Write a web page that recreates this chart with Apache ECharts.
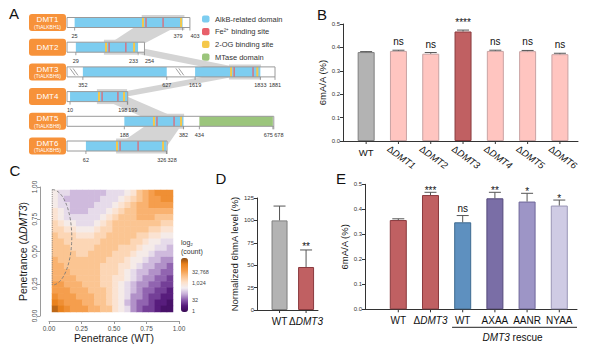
<!DOCTYPE html>
<html>
<head>
<meta charset="UTF-8">
<title>DMT figure</title>
<script src="https://cdn.jsdelivr.net/npm/echarts@6/dist/echarts.min.js"></script>
<style>
  body { margin: 0; background: #fff; }
  #chart { width: 599px; height: 350px; }
</style>
</head>
<body>
<div id="chart"></div>
<script>
var FONT = '"Liberation Sans", Arial, Helvetica, sans-serif';

// ---------- A: domain map (amino-acid positions)
var protNames = ['DMT1', 'DMT2', 'DMT3', 'DMT4', 'DMT5', 'DMT6'];
var protAlias = ['(TtALKBH1)', '', '(TtALKBH6)', '', '(TtALKBH8)', '(TtALKBH5)'];
var protLen = [403, 254, 1881, 199, 678, 328];
var alkbDomains = [[[25, 379]], [[29, 233]], [[352, 627], [1619, 1833]], [[10, 198]], [[188, 382]], [[62, 326]]];
var mtaseDomains = [[], [], [], [], [[434, 675]], []];
var feSites = [[259, 315], [138, 193], [1747, 1809], [115, 167], [295, 351], [174, 233]];
var ogSites = [[249, 374], [128, 220], [1737, 1823], [105, 187], [285, 374], [164, 315]];
var tickPos = [[25, 379, 403], [29, 233, 254], [352, 627, 1619, 1833, 1881], [10, 198, 199], [188, 382, 434, 675, 678], [62, 326, 328]];
var homology = [[245, 385], [121, 230], [1730, 1835], [98, 197], [279, 384], [161, 328]];
var dmt3Shift = [[1500, 1199], [300, 300]];   // DMT3 axis breaks: aa >= from shifted by n
var dmt3Breaks = [23, 1569];
var legendNames = ['AlkB-related domain', 'Fe\u00b2\u207a binding site', '2-OG binding site', 'MTase domain'];

// ---------- B
var catsB = ['WT', '\u0394DMT1', '\u0394DMT2', '\u0394DMT3', '\u0394DMT4', '\u0394DMT5', '\u0394DMT6'];
var valsB = [0.380, 0.385, 0.373, 0.468, 0.385, 0.384, 0.371];
var errsB = [0.002, 0.003, 0.005, 0.006, 0.003, 0.003, 0.004];
var sigB = ['', 'ns', 'ns', '****', 'ns', 'ns', 'ns'];

// ---------- C: log2(count), rows from top (1.0) to bottom (0.0)
var heatRows = [
  [8,7,7,6,6,6,6,6,6,7,7,7,8,9,11,12,13,14,14,14],
  [8,7,6,6,6,6,6,6,7,7,7,8,9,10,11,12,13,13,14,14],
  [8,7,7,6,6,6,6,7,7,7,8,9,10,11,12,12,13,13,13,13],
  [9,8,7,6,6,6,7,7,7,8,9,10,11,11,12,12,12,12,12,12],
  [9,8,7,7,7,7,7,7,8,9,10,11,11,11,12,12,12,11,11,11],
  [10,9,8,8,7,7,7,8,9,10,11,11,11,11,11,11,11,11,10,10],
  [10,10,9,9,8,8,8,9,10,10,11,11,11,11,11,11,10,10,9,9],
  [11,10,10,10,9,9,9,10,10,11,11,11,11,11,10,10,9,9,8,8],
  [11,11,10,10,10,10,10,10,11,11,11,11,11,10,10,9,8,8,7,7],
  [11,11,11,10,10,10,10,11,11,11,11,10,10,10,9,8,8,7,7,6],
  [11,11,11,11,10,10,11,11,11,11,10,10,10,9,8,8,7,6,6,6],
  [12,11,11,11,11,11,11,11,11,10,10,10,9,8,8,7,6,6,5,5],
  [12,12,11,11,11,11,11,11,10,10,10,9,9,8,7,6,6,5,5,4],
  [12,12,12,11,11,11,11,11,10,10,10,9,8,7,6,6,5,5,4,4],
  [12,12,12,12,11,11,11,11,10,10,9,9,8,7,6,5,5,4,4,3],
  [13,13,12,12,12,11,11,11,10,10,9,8,7,6,5,5,4,4,3,3],
  [13,13,13,12,12,12,11,11,11,10,9,8,7,6,5,4,4,3,3,2],
  [14,13,13,13,12,12,12,11,11,10,9,8,7,5,5,4,3,3,2,2],
  [15,14,13,13,13,12,12,11,11,10,9,8,6,5,4,4,3,2,2,1],
  [16,15,14,13,13,13,12,12,11,11,9,8,7,5,4,3,3,2,1,1]
];
var heatColors = ['#3a0a55', '#55197a', '#8a5aab', '#c7afd8', '#f3eef2', '#fde0c8', '#fbbf87', '#f49a45', '#e8801c', '#8b4a12'];
var cbarLabels = ['32,768', '1,024', '32', '1'];
var ellipse = [0.025, 0.61, 0.15, 0.37]; // cx, cy, rx, ry

// ---------- D
var catsD = ['WT', '\u0394DMT3'];
var valsD = [100, 48];
var errsD = [16, 19];
var sigD = ['', '**'];

// ---------- E
var catsE = ['WT', '\u0394DMT3', 'WT', 'AXAA', 'AANR', 'NYAA'];
var valsE = [0.357, 0.457, 0.348, 0.444, 0.431, 0.415];
var errsE = [0.005, 0.011, 0.027, 0.024, 0.033, 0.022];
var sigE = ['', '***', 'ns', '**', '*', '*'];
var rescueRange = [2, 5];

var BLUE = '#7dcdf0', RED = '#e8606a', YELLOW = '#f5c84a', GREEN = '#9bc57c', ORANGE = '#f7923a';
var colorsB = ['#b3b3b3', '#ffc5c0', '#ffc5c0', '#c06062', '#ffc5c0', '#ffc5c0', '#ffc5c0'];
var bordersB = ['#7f7f7f', '#c9a3a3', '#c9a3a3', '#8a3a3e', '#c9a3a3', '#c9a3a3', '#c9a3a3'];
var colorsD = ['#b3b3b3', '#c06062'];
var bordersD = ['#7f7f7f', '#8a3a3e'];
var colorsE = ['#c06062', '#c06062', '#5e90bf', '#7a6ea6', '#9d95c6', '#cfcbe4'];
var bordersE = ['#8a3a3e', '#8a3a3e', '#3e6a90', '#54497a', '#6e6799', '#9a96b5'];

function aaToX(r, aa) {
  if (r !== 2) return aa;
  for (var k = 0; k < dmt3Shift.length; k++) {
    if (aa >= dmt3Shift[k][0]) return aa - dmt3Shift[k][1];
  }
  return aa;
}

function txt(s, x, y, size, opt) {
  opt = opt || {};
  return {
    type: 'text', x: x, y: y, rotation: opt.rotation || 0, z2: 10,
    style: {
      text: s, fontSize: size, fontFamily: FONT, fontStyle: opt.italic ? 'italic' : 'normal',
      fill: opt.fill || '#222', rich: opt.rich,
      align: opt.align || 'center', textAlign: opt.align || 'center',
      verticalAlign: opt.va || 'middle', textVerticalAlign: opt.va || 'middle'
    }
  };
}

function richSet(size) {
  return {
    n: { fontSize: size, fontFamily: FONT, fill: '#111', color: '#111' },
    i: { fontSize: size, fontFamily: FONT, fontStyle: 'italic', fill: '#111', color: '#111' }
  };
}
function richLabel(s) {
  if (s.charAt(0) === '\u0394') return '{n|\u0394}{i|' + s.slice(1) + '}';
  return '{n|' + s + '}';
}

function renderHomology(params, api) {
  var r = params.dataIndex;
  var a = homology[r];
  var p0 = api.coord([aaToX(r, a[0]), r]), p1 = api.coord([aaToX(r, a[1]), r]);
  var kids = [{ type: 'rect', shape: { x: p0[0], y: p0[1] - 7.5, width: p1[0] - p0[0], height: 15 }, style: { fill: '#d4d4d4' } }];
  if (r < protNames.length - 1) {
    var b = homology[r + 1];
    var q0 = api.coord([aaToX(r + 1, b[0]), r + 1]), q1 = api.coord([aaToX(r + 1, b[1]), r + 1]);
    kids.push({ type: 'polygon', shape: { points: [p0, p1, q1, q0] }, style: { fill: '#d4d4d4' } });
  }
  return { type: 'group', children: kids };
}

function renderProtein(params, api) {
  var r = params.dataIndex;
  var origin = api.coord([0, r]);
  var yc = origin[1], x0 = origin[0];
  var h = 10, top = yc - h / 2, bot = yc + h / 2;
  function px(aa) { return api.coord([aaToX(r, aa), r])[0]; }
  var kids = [];
  var xEnd = px(protLen[r]);
  kids.push({ type: 'rect', shape: { x: x0, y: top, width: xEnd - x0, height: h }, style: { fill: '#fff' } });
  alkbDomains[r].forEach(function (d) {
    kids.push({ type: 'rect', shape: { x: px(d[0]), y: top, width: px(d[1]) - px(d[0]), height: h }, style: { fill: BLUE } });
  });
  mtaseDomains[r].forEach(function (d) {
    kids.push({ type: 'rect', shape: { x: px(d[0]), y: top, width: px(d[1]) - px(d[0]), height: h }, style: { fill: GREEN } });
  });
  ogSites[r].forEach(function (s) {
    kids.push({ type: 'rect', shape: { x: px(s) - 1, y: top, width: 2, height: h }, style: { fill: YELLOW } });
  });
  feSites[r].forEach(function (s) {
    kids.push({ type: 'rect', shape: { x: px(s) - 0.6, y: top, width: 1.2, height: h }, style: { fill: RED } });
  });
  kids.push({ type: 'rect', shape: { x: x0, y: top, width: xEnd - x0, height: h }, style: { fill: 'none', stroke: '#9a9a9a', lineWidth: 1 } });
  if (r === 2) {
    dmt3Breaks.forEach(function (b) {
      var bx = px(b);
      [-1.5, 1.5].forEach(function (o) {
        kids.push({ type: 'line', shape: { x1: bx + o - 2.5, y1: top + 1.5, x2: bx + o + 2.5, y2: bot - 1.5 }, style: { stroke: '#8a8a8a', lineWidth: 0.8 } });
      });
    });
  }
  var tp = tickPos[r];
  for (var k = 0; k < tp.length; k++) {
    var tx = px(tp[k]);
    kids.push({ type: 'line', shape: { x1: tx, y1: bot, x2: tx, y2: bot + 3 }, style: { stroke: '#888', lineWidth: 0.8 } });
    var align = 'center';
    if (k + 1 < tp.length && px(tp[k + 1]) - tx < 12) align = 'right';
    if (k > 0 && tx - px(tp[k - 1]) < 12) align = 'left';
    kids.push(txt(String(tp[k]), tx + (align === 'left' ? 0.5 : 0), bot + 8.5, 5.5, { align: align, fill: '#333' }));
  }
  kids.push({ type: 'rect', shape: { x: 29, y: yc - 8.5, width: 37, height: 17, r: 3 }, style: { fill: ORANGE } });
  if (protAlias[r]) {
    kids.push(txt(protNames[r], 47.5, yc - 2.8, 8, { fill: '#fff' }));
    kids.push(txt(protAlias[r], 47.5, yc + 4.2, 5, { fill: '#fff' }));
  } else {
    kids.push(txt(protNames[r], 47.5, yc, 8, { fill: '#fff' }));
  }
  return { type: 'group', children: kids };
}

function barSeries(xi, vals, colors, borders, width) {
  return {
    type: 'bar', xAxisIndex: xi, yAxisIndex: xi, barWidth: width, silent: true,
    data: vals.map(function (v, i) {
      return { value: [i, v], itemStyle: { color: colors[i], borderColor: borders[i], borderWidth: 1 } };
    })
  };
}

function errSeries(xi, vals, errs, sigs, st) {
  return {
    type: 'custom', xAxisIndex: xi, yAxisIndex: xi, silent: true, z: 5,
    data: vals.map(function (v, i) { return [i, v + errs[i]]; }),
    renderItem: function (params, api) {
      var i = params.dataIndex;
      var base = api.coord([i, vals[i]]), top = api.coord([i, vals[i] + errs[i]]);
      var kids = [
        { type: 'line', shape: { x1: base[0], y1: base[1], x2: top[0], y2: top[1] }, style: { stroke: '#555', lineWidth: 1 } },
        { type: 'line', shape: { x1: top[0] - st.cap / 2, y1: top[1], x2: top[0] + st.cap / 2, y2: top[1] }, style: { stroke: '#555', lineWidth: 1 } }
      ];
      if (sigs[i]) {
        var star = sigs[i].charAt(0) === '*';
        kids.push(txt(sigs[i], top[0], top[1] - (star ? st.starGap : st.nsGap), 10, { fill: '#111' }));
      }
      return { type: 'group', children: kids };
    }
  };
}

function labelSeries(xi, cats, st) {
  return {
    type: 'custom', xAxisIndex: xi, yAxisIndex: xi, silent: true,
    data: cats.map(function (c, i) { return [i, 0]; }),
    renderItem: function (params, api) {
      var i = params.dataIndex;
      var p = api.coord([i, 0]);
      var kids = [{ type: 'line', shape: { x1: p[0], y1: p[1], x2: p[0], y2: p[1] + 3 }, style: { stroke: '#333', lineWidth: 1 } }];
      var rot = st.rotate && cats[i].charAt(0) === '\u0394';
      if (rot) {
        kids.push(txt(richLabel(cats[i]), p[0] - 7, p[1] + 2.5, st.size, { rich: richSet(st.size), align: 'left', va: 'top', rotation: st.angle }));
      } else {
        kids.push(txt(richLabel(cats[i]), p[0], p[1] + st.dy, st.size, { rich: richSet(st.size) }));
      }
      return { type: 'group', children: kids };
    }
  };
}

function barYAxis(gi, max, interval, name, gap, fmt) {
  return {
    gridIndex: gi, type: 'value', min: 0, max: max, interval: interval,
    axisLine: { show: true, onZero: false, lineStyle: { color: '#333', width: 1 } },
    axisTick: { show: true, length: 3, lineStyle: { color: '#333' } },
    axisLabel: { fontSize: 6, color: '#333', margin: 3, fontFamily: FONT, formatter: fmt },
    splitLine: { show: false },
    name: name, nameLocation: 'middle', nameGap: gap,
    nameTextStyle: { fontSize: 9.5, color: '#1a1a1a', fontFamily: FONT }
  };
}
function hiddenX(gi, min, max) {
  return {
    gridIndex: gi, type: 'value', min: min, max: max,
    axisLine: { show: true, onZero: false, lineStyle: { color: '#333', width: 1 } },
    axisTick: { show: false }, axisLabel: { show: false }, splitLine: { show: false }
  };
}

var heatData = [];
heatRows.forEach(function (row, ri) {
  row.forEach(function (v, c) { heatData.push([c, heatRows.length - 1 - ri, v]); });
});
var idx20 = heatRows[0].map(function (v, i) { return i; });

var graphics = [];
[['A', 14, 13.5], ['B', 322, 14], ['C', 15, 170], ['D', 221, 178], ['E', 341, 178]].forEach(function (l) {
  graphics.push({ type: 'text', x: l[1], y: l[2], style: { text: l[0], fontSize: 15, fontFamily: FONT, fill: '#111', align: 'center', verticalAlign: 'middle', textAlign: 'center', textVerticalAlign: 'middle' } });
});
[BLUE, RED, YELLOW, GREEN].forEach(function (c, i) {
  var y = 19 + i * 12.7;
  graphics.push({ type: 'rect', shape: { x: 202, y: y - 3.6, width: 7.5, height: 7.2, r: 2 }, style: { fill: c } });
  graphics.push({ type: 'text', x: 215, y: y, style: { text: legendNames[i], fontSize: 7.5, fontFamily: FONT, fill: '#333', align: 'left', verticalAlign: 'middle', textAlign: 'left', textVerticalAlign: 'middle' } });
});
graphics.push({ type: 'text', x: 181, y: 242, style: { text: 'log\u2082', fontSize: 7, fontFamily: FONT, fill: '#333', align: 'left', verticalAlign: 'middle', textAlign: 'left', textVerticalAlign: 'middle' } });
graphics.push({ type: 'text', x: 181, y: 251.5, style: { text: '(count)', fontSize: 7, fontFamily: FONT, fill: '#333', align: 'left', verticalAlign: 'middle', textAlign: 'left', textVerticalAlign: 'middle' } });
[271.7, 283, 300, 310.7].forEach(function (y, i) {
  graphics.push({ type: 'text', x: 192, y: y, style: { text: cbarLabels[i], fontSize: 5.5, fontFamily: FONT, fill: '#444', align: 'left', verticalAlign: 'middle', textAlign: 'left', textVerticalAlign: 'middle' } });
});

var chart = echarts.init(document.getElementById('chart'), null, { renderer: 'svg' });
var gridBase = { containLabel: false, outerBoundsMode: 'none' };
function G(o) { return Object.assign({}, gridBase, o); }

var option = {
  backgroundColor: '#fff',
  animation: false,
  textStyle: { fontFamily: FONT },
  grid: [
    G({ left: 67, top: 10.15, width: 213.5, height: 148.2 }),
    G({ left: 343, top: 24, width: 235, height: 117 }),
    G({ left: 49, top: 187, width: 130, height: 129 }),
    G({ left: 52, top: 190, width: 121, height: 122 }),
    G({ left: 257, top: 198, width: 61, height: 112 }),
    G({ left: 365, top: 184.3, width: 212, height: 125 })
  ],
  xAxis: [
    { gridIndex: 0, type: 'value', min: 0, max: 700, show: false },
    hiddenX(1, -0.717, 6.56),
    {
      gridIndex: 2, type: 'value', min: 0, max: 1, interval: 0.25, offset: 5,
      axisLine: { show: true, onZero: false, lineStyle: { color: '#9a9a9a' } },
      axisTick: { show: true, length: 3, lineStyle: { color: '#9a9a9a' } },
      axisLabel: { fontSize: 6.5, color: '#4d4d4d', margin: 3.5, fontFamily: FONT, formatter: function (v) { return v.toFixed(2); } },
      splitLine: { show: false },
      name: 'Penetrance (WT)', nameLocation: 'middle', nameGap: 11.5,
      nameTextStyle: { fontSize: 10.5, color: '#1a1a1a', fontFamily: FONT }
    },
    { gridIndex: 3, type: 'category', data: idx20, show: false },
    hiddenX(4, -0.85, 1.45),
    hiddenX(5, -1.034, 5.55)
  ],
  yAxis: [
    { gridIndex: 0, type: 'value', min: -0.5, max: 5.5, inverse: true, show: false },
    barYAxis(1, 0.5, 0.1, '6mA/A (%)', 16, function (v) { return v.toFixed(1); }),
    {
      gridIndex: 2, type: 'value', min: 0, max: 1, interval: 0.25, offset: 9,
      axisLine: { show: true, onZero: false, lineStyle: { color: '#9a9a9a' } },
      axisTick: { show: true, length: 3, lineStyle: { color: '#9a9a9a' } },
      axisLabel: { fontSize: 6.5, color: '#4d4d4d', margin: 2, rotate: 90, fontFamily: FONT, formatter: function (v) { return v.toFixed(2); } },
      splitLine: { show: false },
      name: 'Penetrance ({n|\u0394}{i|DMT3})', nameLocation: 'middle', nameGap: 11.5,
      nameTextStyle: {
        fontSize: 10.5, color: '#1a1a1a', fontFamily: FONT,
        rich: { n: { fontSize: 10.5, color: '#1a1a1a', fontFamily: FONT }, i: { fontSize: 10.5, color: '#1a1a1a', fontStyle: 'italic', fontFamily: FONT } }
      }
    },
    { gridIndex: 3, type: 'category', data: idx20, show: false },
    barYAxis(4, 125, 25, 'Normalized 6hmA level (%)', 18, function (v) { return String(v); }),
    barYAxis(5, 0.5, 0.1, '6mA/A (%)', 9, function (v) { return v.toFixed(1); })
  ],
  visualMap: [{
    type: 'continuous', seriesIndex: 5, min: 0, max: 17, left: 181, top: 258,
    itemWidth: 7, itemHeight: 54, calculable: false, hoverLink: false, padding: 0,
    text: null, showLabel: false, inRange: { color: heatColors }
  }],
  graphic: graphics,
  series: [
    { type: 'custom', xAxisIndex: 0, yAxisIndex: 0, silent: true, z: 1, data: protNames.map(function (n, i) { return [0, i]; }), renderItem: renderHomology },
    { type: 'custom', xAxisIndex: 0, yAxisIndex: 0, silent: true, z: 2, data: protNames.map(function (n, i) { return [0, i]; }), renderItem: renderProtein },
    barSeries(1, valsB, colorsB, bordersB, 17),
    errSeries(1, valsB, errsB, sigB, { cap: 12, starGap: 8, nsGap: 8.5 }),
    labelSeries(1, catsB, { size: 9.5, dy: 11, rotate: true, angle: -0.63 }),
    { type: 'heatmap', xAxisIndex: 3, yAxisIndex: 3, silent: true, data: heatData, itemStyle: { borderWidth: 0 } },
    {
      type: 'custom', xAxisIndex: 2, yAxisIndex: 2, silent: true, z: 5, data: [ellipse],
      renderItem: function (params, api) {
        var c = api.coord([ellipse[0], ellipse[1]]);
        var t = api.coord([ellipse[0], ellipse[1] + ellipse[3]]);
        var b = api.coord([ellipse[0], ellipse[1] - ellipse[3]]);
        var rx = api.coord([ellipse[0] + ellipse[2], ellipse[1]])[0] - c[0];
        var ry = c[1] - t[1];
        return {
          type: 'group', children: [
            { type: 'path', shape: { pathData: 'M' + c[0] + ' ' + t[1] + ' A' + rx + ' ' + ry + ' 0 0 1 ' + c[0] + ' ' + b[1] }, style: { fill: 'none', stroke: '#7a7a7a', lineWidth: 0.9, lineDash: [3, 2] } },
            { type: 'line', shape: { x1: c[0], y1: t[1], x2: c[0], y2: b[1] }, style: { stroke: '#7a7a7a', lineWidth: 0.9, lineDash: [1, 1.2] } }
          ]
        };
      }
    },
    barSeries(4, valsD, colorsD, bordersD, 16),
    errSeries(4, valsD, errsD, sigD, { cap: 12, starGap: 3.5, nsGap: 8 }),
    labelSeries(4, catsD, { size: 10, dy: 11 }),
    barSeries(5, valsE, colorsE, bordersE, 17),
    errSeries(5, valsE, errsE, sigE, { cap: 12, starGap: 2, nsGap: 7.5 }),
    labelSeries(5, catsE, { size: 10, dy: 11 }),
    {
      type: 'custom', xAxisIndex: 5, yAxisIndex: 5, silent: true, data: [rescueRange],
      renderItem: function (params, api) {
        var a = api.coord([rescueRange[0] - 0.33, 0]), b = api.coord([rescueRange[1] + 0.55, 0]);
        var mid = api.coord([(rescueRange[0] + rescueRange[1]) / 2 + 0.05, 0]);
        return {
          type: 'group', children: [
            { type: 'line', shape: { x1: a[0], y1: a[1] + 18, x2: b[0], y2: b[1] + 18 }, style: { stroke: '#222', lineWidth: 1 } },
            txt('{i|DMT3}{n| rescue}', mid[0], mid[1] + 28, 10, { rich: richSet(10) })
          ]
        };
      }
    }
  ]
};
chart.setOption(option);
</script>
</body>
</html>
